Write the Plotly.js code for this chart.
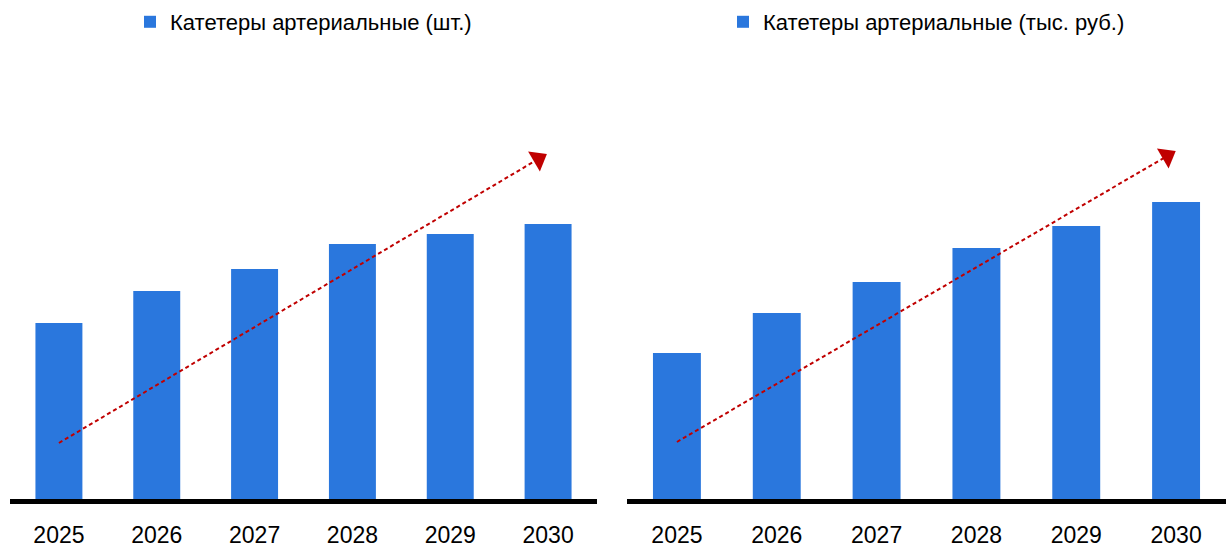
<!DOCTYPE html>
<html>
<head>
<meta charset="utf-8">
<script src="https://cdn.plot.ly/plotly-3.0.1.min.js"></script>
<style>
html,body{margin:0;padding:0;background:#fff;}
#chart{width:1230px;height:550px;}
</style>
</head>
<body>
<div id="chart"></div>
<script>
// Data
const years = ['2025', '2026', '2027', '2028', '2029', '2030'];
const unitsSeriesName = 'Катетеры артериальные (шт.)';
const unitsValues = [176, 208, 230, 255, 265, 275];
const rublesSeriesName = 'Катетеры артериальные (тыс. руб.)';
const rublesValues = [146, 186, 217, 251, 273, 297];
// Trend arrows (category index, value)
const trendLeftX = [0, 4.9];
const trendLeftY = [56, 340];
const trendRightX = [0, 4.91];
const trendRightY = [57, 343];

const FONT = '"Liberation Sans", Arial, sans-serif';
const BLUE = '#2A77DD';
const RED = '#C00000';

const traces = [
  {type: 'bar', x: years, y: unitsValues, name: unitsSeriesName, marker: {color: BLUE},
   xaxis: 'x', yaxis: 'y', legend: 'legend', width: 0.48, hoverinfo: 'x+y'},
  {type: 'bar', x: years, y: rublesValues, name: rublesSeriesName, marker: {color: BLUE},
   xaxis: 'x2', yaxis: 'y2', legend: 'legend2', width: 0.48, hoverinfo: 'x+y'},
  {type: 'scatter', mode: 'lines+markers', x: trendLeftX, y: trendLeftY, xaxis: 'x3', yaxis: 'y',
   line: {color: RED, width: 2, dash: '4px,3px'},
   marker: {symbol: 'triangle-up', angleref: 'previous', size: [0, 20], color: RED, opacity: 1, line: {width: 0}},
   showlegend: false, hoverinfo: 'skip'},
  {type: 'scatter', mode: 'lines+markers', x: trendRightX, y: trendRightY, xaxis: 'x4', yaxis: 'y2',
   line: {color: RED, width: 2, dash: '4px,3px'},
   marker: {symbol: 'triangle-up', angleref: 'previous', size: [0, 20], color: RED, opacity: 1, line: {width: 0}},
   showlegend: false, hoverinfo: 'skip'}
];

const leftDomain = [10/1230, 597/1230];
const rightDomain = [627/1230, 1226/1230];

const xCommon = {
  showgrid: false, zeroline: false, showline: true, linecolor: '#000', linewidth: 5,
  ticks: '', ticklabelstandoff: 11, tickfont: {family: FONT, size: 23, color: '#000'}, fixedrange: true
};
const xOverlay = {
  showgrid: false, zeroline: false, showline: false, showticklabels: false,
  range: [-0.5, 5.5], fixedrange: true
};
const yCommon = {
  showgrid: false, zeroline: false, showline: false, showticklabels: false, ticks: '',
  range: [0, 439], fixedrange: true
};

const layout = {
  width: 1230, height: 550,
  margin: {l: 0, r: 0, t: 60, b: 51},
  paper_bgcolor: '#fff', plot_bgcolor: '#fff',
  font: {family: FONT, color: '#000'},
  xaxis: Object.assign({}, xCommon, {domain: leftDomain, anchor: 'y', type: 'category', range: [-0.5, 5.5]}),
  xaxis2: Object.assign({}, xCommon, {domain: rightDomain, anchor: 'y2', type: 'category', range: [-0.5, 5.5]}),
  xaxis3: Object.assign({}, xOverlay, {domain: leftDomain, anchor: 'y', overlaying: 'x'}),
  xaxis4: Object.assign({}, xOverlay, {domain: rightDomain, anchor: 'y2', overlaying: 'x2'}),
  yaxis: Object.assign({}, yCommon, {anchor: 'x'}),
  yaxis2: Object.assign({}, yCommon, {anchor: 'x2'}),
  showlegend: true,
  legend: {x: (leftDomain[0]+leftDomain[1])/2, xanchor: 'center', y: 1.0866, yanchor: 'middle',
    orientation: 'h', font: {family: FONT, size: 22, color: '#000'}, bgcolor: 'rgba(0,0,0,0)'},
  legend2: {x: (rightDomain[0]+rightDomain[1])/2, xanchor: 'center', y: 1.0866, yanchor: 'middle',
    orientation: 'h', font: {family: FONT, size: 22, color: '#000'}, bgcolor: 'rgba(0,0,0,0)'},
  bargap: 0.52
};

Plotly.newPlot('chart', traces, layout, {displayModeBar: false, staticPlot: true});
</script>
</body>
</html>
